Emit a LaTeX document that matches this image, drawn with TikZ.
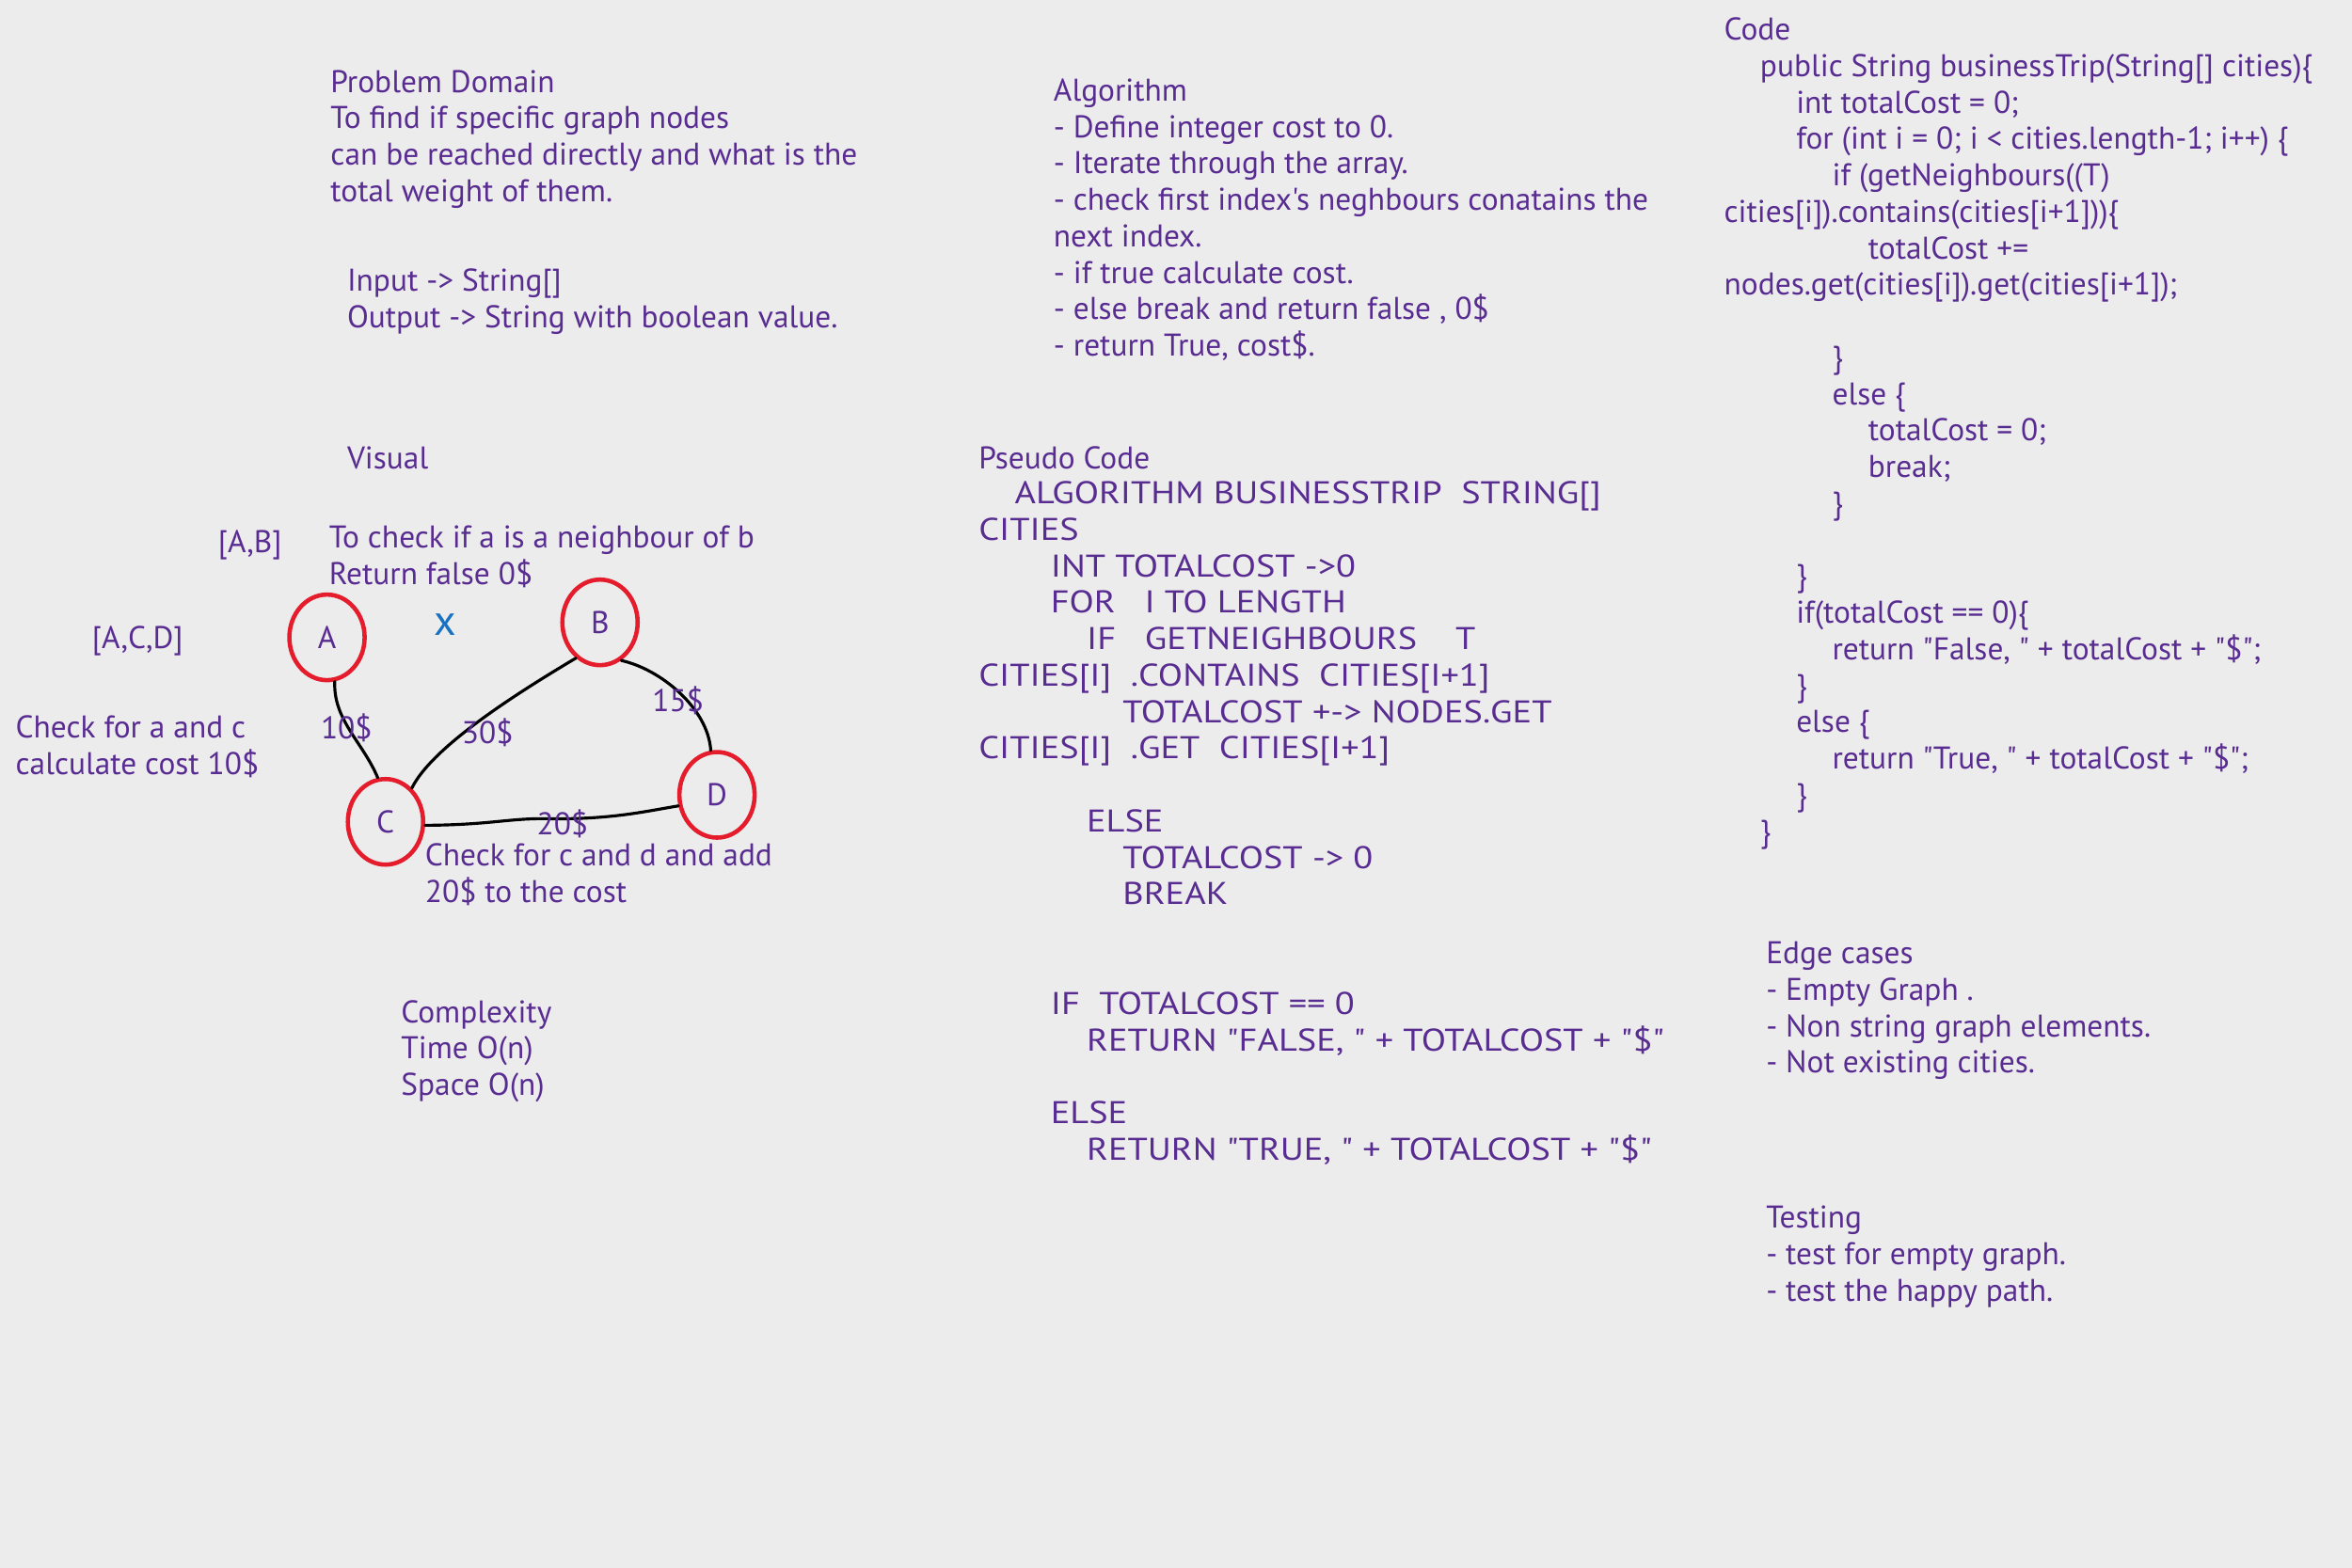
\documentclass[tikz,border=0pt]{standalone}
\usepackage{fontspec}
\setmainfont{PT Sans}[Ligatures=TeXOff]
\newfontfamily\pseudofont{PT Sans}[Ligatures=TeXOff,FakeStretch=1.15]
\usetikzlibrary{shapes.geometric}
\definecolor{bg}{RGB}{236,236,236}
\definecolor{ink}{RGB}{88,44,145}
\definecolor{redc}{RGB}{228,28,44}
\definecolor{bluex}{RGB}{25,113,194}
\newcommand\tabin[1]{\hspace*{\dimexpr10.9pt*#1\relax}}
\begin{document}
\begin{tikzpicture}[x=0.015944cm,y=-0.015944cm,
  txt/.style={anchor=mid west,inner sep=0pt,align=left,text=ink,font=\fontsize{9.5pt}{11.03pt}\selectfont},
  caps/.style={txt,font=\pseudofont\fontsize{9.5pt}{11.03pt}\selectfont},
  lbl/.style={anchor=mid,inner sep=0pt,text=ink,font=\fontsize{9.5pt}{11.03pt}\selectfont},
  city/.style={ellipse,draw=redc,line width=1.3pt,minimum width=0.8cm,minimum height=0.91cm,inner sep=0pt,text=ink,font=\fontsize{9.5pt}{11pt}\selectfont},
  link/.style={draw=black,line width=0.9pt,line cap=round}]
\fill[bg] (0,0) rectangle (1568,1045.5);
\useasboundingbox (0,0) rectangle (1568,1045.5);

% Problem domain (positions give the last line of each block)
\node[txt] (prob) at (220,129) {Problem Domain\\To find if specific graph nodes\\can be reached directly and what is the\\total weight of them.};
\node[txt] (io) at (231,213) {Input -> String[]\\Output -> String with boolean value.};
\node[txt] (visual) at (231,307) {Visual};
\node[txt] (ab) at (145,363) {[A,B]};
\node[txt] (tocheck) at (219,384) {To check if a is a neighbour of b\\Return false 0\$};
\node[txt] (acd) at (61,427) {[A,C,D]};
\node[txt] (checkac) at (10,511) {Check for a and c\\calculate cost 10\$};
\node[txt] (checkcd) at (283,596) {Check for c and d and add\\20\$ to the cost};
\node[txt] (complex) at (267,725) {Complexity\\Time O(n)\\Space O(n)};

% Graph
\node[city] (A) at (218,425) {A};
\node[city] (B) at (400,415) {B};
\node[city] (C) at (257,548) {C};
\node[city] (D) at (478,530) {D};
\node[anchor=mid,inner sep=0pt,text=bluex,font=\fontsize{13pt}{13pt}\selectfont] (xmark) at (297,418) {x};

\draw[link] (A.-80) .. controls (222,480) and (242,495) .. (C.100);
\draw[link] (B.-124) .. controls (345,462) and (288,498) .. (C.52);
\draw[link] (B.-61) .. controls (440,446) and (472,472) .. (D.98);
\draw[link] (C.-5) .. controls (330,550) and (340,545) .. (370,546) .. controls (410,546) and (430,541) .. (D.-164);

\node[lbl] (w10) at (231,487) {10\$};
\node[lbl] (w30) at (325,490) {30\$};
\node[lbl] (w15) at (452,469) {15\$};
\node[lbl] (w20) at (375,551) {20\$};

% Algorithm
\node[txt] (algo) at (702,232) {Algorithm\\- Define integer cost to 0.\\- Iterate through the array.\\- check first index's neghbours conatains the\\next index.\\- if true calculate cost.\\- else break and return false , 0\$\\- return True, cost\$.};

% Pseudo code
\node[txt] (pseudohead) at (652,307) {Pseudo Code};
\node[caps] (pseudo) at (652,768) {\tabin{1}ALGORITHM BUSINESSTRIP\ \ STRING[]\\
CITIES\\
\tabin{2}INT TOTALCOST ->0\\
\tabin{2}FOR\ \ \ I TO LENGTH\\
\tabin{3}IF\ \ \ GETNEIGHBOURS\ \ \ \ T\\
CITIES[I]\ \ .CONTAINS\ \ CITIES[I+1]\\
\tabin{4}TOTALCOST +-> NODES.GET\\
CITIES[I]\ \ .GET\ \ CITIES[I+1]\\
\mbox{}\\
\tabin{3}ELSE\\
\tabin{4}TOTALCOST -> 0\\
\tabin{4}BREAK\\
\mbox{}\\
\mbox{}\\
\tabin{2}IF\ \ TOTALCOST == 0\\
\tabin{3}RETURN "FALSE, " + TOTALCOST + "\$"\\
\mbox{}\\
\tabin{2}ELSE\\
\tabin{3}RETURN "TRUE, " + TOTALCOST + "\$"};

% Code
\node[txt] (code) at (1149,556) {Code\\
\tabin{1}public String businessTrip(String[] cities)\{\\
\tabin{2}int totalCost = 0;\\
\tabin{2}for (int i = 0; i < cities.length-1; i++) \{\\
\tabin{3}if (getNeighbours((T)\\
cities[i]).contains(cities[i+1]))\{\\
\tabin{4}totalCost +=\\
nodes.get(cities[i]).get(cities[i+1]);\\
\mbox{}\\
\tabin{3}\}\\
\tabin{3}else \{\\
\tabin{4}totalCost = 0;\\
\tabin{4}break;\\
\tabin{3}\}\\
\mbox{}\\
\tabin{2}\}\\
\tabin{2}if(totalCost == 0)\{\\
\tabin{3}return "False, " + totalCost + "\$";\\
\tabin{2}\}\\
\tabin{2}else \{\\
\tabin{3}return "True, " + totalCost + "\$";\\
\tabin{2}\}\\
\tabin{1}\}};

% Edge cases and testing
\node[txt] (edges) at (1177,710) {Edge cases\\- Empty Graph .\\- Non string graph elements.\\- Not existing cities.};
\node[txt] (testing) at (1177,862) {Testing\\- test for empty graph.\\- test the happy path.};
\end{tikzpicture}
\end{document}
